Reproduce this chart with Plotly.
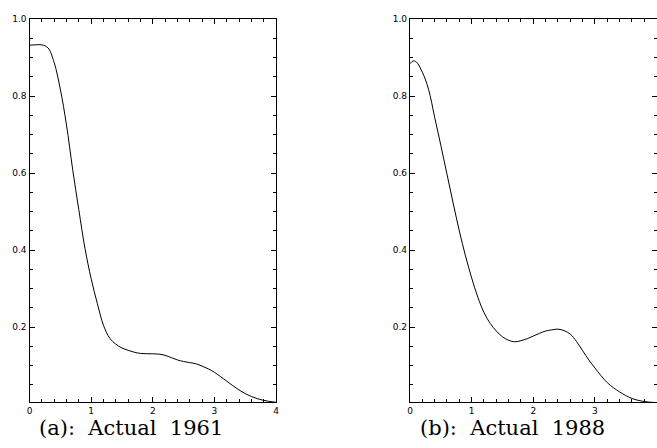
import plotly.graph_objects as go

# ---- data ----
x_1961 = [0.0, 0.1, 0.2, 0.3, 0.4, 0.5, 0.6, 0.7, 0.8, 0.9, 1.0, 1.1, 1.2, 1.3, 1.4,
          1.5, 1.6, 1.7, 1.8, 1.9, 2.0, 2.1, 2.2, 2.3, 2.4, 2.5, 2.6, 2.7, 2.8, 2.9,
          3.0, 3.2, 3.4, 3.6, 3.8, 4.0]
y_1961 = [0.932, 0.933, 0.933, 0.925, 0.887, 0.818, 0.725, 0.61, 0.505, 0.405, 0.326,
          0.262, 0.205, 0.172, 0.156, 0.146, 0.14, 0.135, 0.132, 0.131, 0.131, 0.13,
          0.127, 0.121, 0.115, 0.111, 0.108, 0.105, 0.099, 0.092, 0.083, 0.06, 0.037,
          0.02, 0.01, 0.005]

x_1988 = [0.0, 0.05, 0.1, 0.2, 0.3, 0.4, 0.5, 0.6, 0.7, 0.8, 0.9, 1.0, 1.1, 1.2, 1.3,
          1.4, 1.5, 1.6, 1.7, 1.8, 1.9, 2.0, 2.1, 2.2, 2.3, 2.4, 2.5, 2.6, 2.7, 2.8,
          2.9, 3.0, 3.2, 3.4, 3.6, 3.8, 4.0]
y_1988 = [0.884, 0.891, 0.889, 0.862, 0.818, 0.745, 0.672, 0.597, 0.522, 0.45, 0.385,
          0.328, 0.278, 0.238, 0.21, 0.19, 0.175, 0.166, 0.162, 0.165, 0.17, 0.177,
          0.184, 0.19, 0.193, 0.195, 0.191, 0.182, 0.163, 0.139, 0.115, 0.094, 0.056,
          0.032, 0.015, 0.007, 0.004]

titles = ["(a):\u00a0 Actual\u00a0 1961", "(b):\u00a0 Actual\u00a0 1988"]

W, H = 657, 448

fig = go.Figure()
fig.add_trace(go.Scatter(x=x_1961, y=y_1961, mode="lines", xaxis="x", yaxis="y",
                         line=dict(color="black", width=1.0, shape="spline", smoothing=1.0),
                         showlegend=False, hoverinfo="skip"))
fig.add_trace(go.Scatter(x=x_1988, y=y_1988, mode="lines", xaxis="x2", yaxis="y2",
                         line=dict(color="black", width=1.0, shape="spline", smoothing=1.0),
                         showlegend=False, hoverinfo="skip"))

tickfont = dict(family="DejaVu Sans, sans-serif", size=9, color="black")

def xax(domain, anchor):
    return dict(domain=domain, anchor=anchor, range=[0, 4], dtick=1, tick0=0,
                automargin=False,
                showgrid=False, zeroline=False, showline=True, linecolor="black",
                linewidth=1.2, mirror="ticks", ticks="inside", ticklen=5,
                tickcolor="black", tickwidth=1.2, tickfont=tickfont,
                minor=dict(dtick=0.2, ticks="inside", ticklen=3, tickcolor="black",
                           tickwidth=1, showgrid=False))

def yax(domain, anchor):
    return dict(domain=domain, anchor=anchor, range=[0.005, 1.0], dtick=0.2, tick0=0,
                automargin=False,
                tickformat=".1f", showgrid=False, zeroline=False, showline=True,
                linecolor="black", linewidth=1.2, mirror="ticks", ticks="inside",
                ticklen=5, tickcolor="black", tickwidth=1.2, tickfont=tickfont,
                minor=dict(dtick=0.05, ticks="inside", ticklen=3, tickcolor="black",
                           tickwidth=1, showgrid=False))

ydom = [1 - 402.3 / H, 1 - 19 / H]
fig.update_layout(
    width=W, height=H, autosize=False,
    template="none",
    margin=dict(l=0, r=0, t=0, b=0, pad=0),
    paper_bgcolor="white", plot_bgcolor="white",
    xaxis=xax([29.5 / W, 276 / W], "y"),
    yaxis=yax(ydom, "x"),
    xaxis2=xax([410 / W, 656.6 / W], "y2"),
    yaxis2=yax(ydom, "x2"),
    annotations=[
        dict(text=titles[0], x=131 / W, y=1 - 428 / H, xref="paper", yref="paper",
             xanchor="center", yanchor="middle", showarrow=False,
             font=dict(family="DejaVu Serif, serif", size=21, color="black")),
        dict(text=titles[1], x=512 / W, y=1 - 428 / H, xref="paper", yref="paper",
             xanchor="center", yanchor="middle", showarrow=False,
             font=dict(family="DejaVu Serif, serif", size=21, color="black")),
    ],
)

fig.write_html("out.html", config={"displayModeBar": False},
               post_script="document.body.style.margin='0';document.body.style.padding='0';")
